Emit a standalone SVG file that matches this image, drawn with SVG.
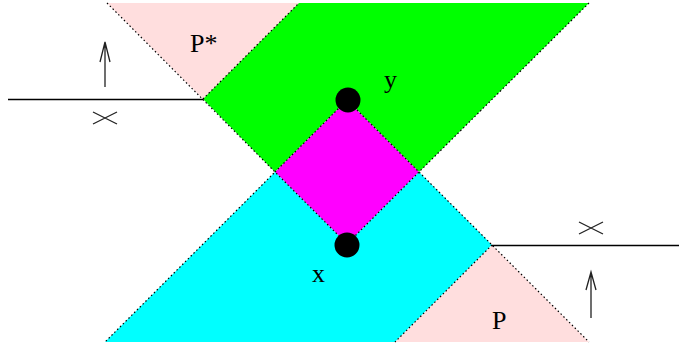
<svg xmlns="http://www.w3.org/2000/svg" width="679" height="348" viewBox="0 0 679 348">
<style>
.cone{fill:none;stroke:#000;stroke-width:1.2;stroke-dasharray:1.5 2.5}
.ln{fill:none;stroke:#000;stroke-width:1.5}
.arr{fill:none;stroke:#222;stroke-width:1.3}
.lbl{font-family:"Liberation Serif",serif;font-size:26px;fill:#000}
</style>
<rect width="679" height="348" fill="#fff"/>
<g id="regions">
<polygon id="pstar" points="107,3 299,3 203,99" fill="#ffdede"/>
<polygon id="green" points="203,99 299,3 589,3 419,172 347,100 275,172" fill="#00ff00"/>
<polygon id="diamond" points="275,172 347,100 419,172 347,244" fill="#ff00ff"/>
<polygon id="cyan" points="275,172 347,244 419,172 492,245 395,342 105,342" fill="#00ffff"/>
<polygon id="p" points="492,245 589,342 395,342" fill="#ffdede"/>
</g>
<g id="connectors">
<path class="cone" d="M107,3 L275,172 L105,342"/>
<path class="cone" d="M203,99 L299,3"/>
<path class="cone" d="M589,3 L419,172 L589,342"/>
<path class="cone" d="M275,172 L347,100 L419,172 L347,244 Z"/>
<path class="cone" d="M492,245 L395,342"/>
<path class="ln" d="M8,99.5 H203"/>
<path class="ln" d="M492,245.5 H679"/>
<path class="arr" d="M105,87 V42 M100,62 L105,42 L110,62"/>
<path class="arr" d="M591,318 V272 M586,290 L591,272 L596,290"/>
<path class="arr" d="M93,112 L117,124 M93,124 L117,112"/>
<path class="arr" d="M579,222 L603,234 M579,234 L603,222"/>
</g>
<g id="y-node">
<circle cx="348" cy="100" r="12.5" fill="#000"/>
<text class="lbl" x="384" y="88">y</text>
</g>
<g id="x-node">
<circle cx="347" cy="245" r="12.5" fill="#000"/>
<text class="lbl" x="312" y="282">x</text>
</g>
<g id="pstar-label"><text class="lbl" x="190" y="52">P*</text></g>
<g id="p-label"><text class="lbl" x="492" y="329">P</text></g>
</svg>
